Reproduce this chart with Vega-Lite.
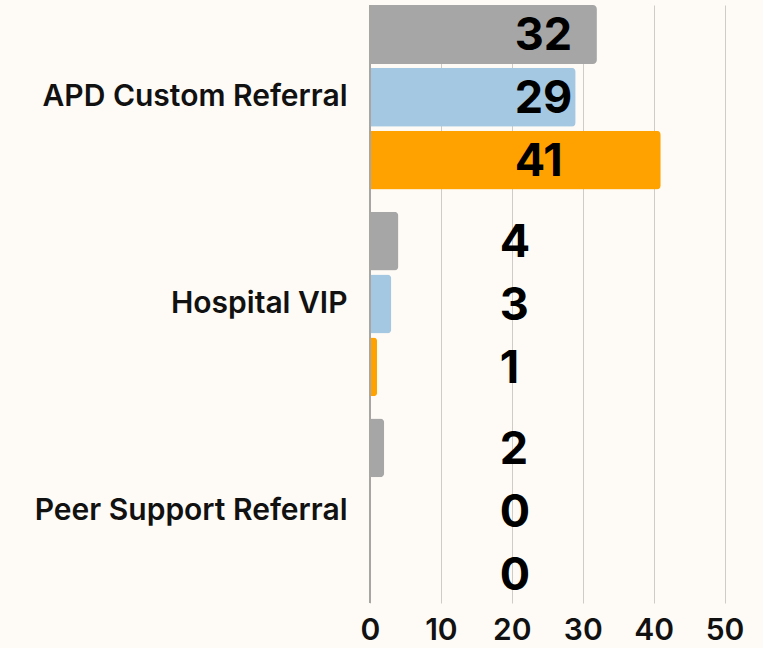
{
  "$schema": "https://vega.github.io/schema/vega-lite/v6.json",
  "width": 390,
  "height": 598,
  "autosize": {"type": "none"},
  "padding": {"left": 370, "top": 5, "right": 3, "bottom": 45},
  "background": "#FEFBF6",
  "config": {
    "view": {"stroke": null},
    "font": "Inter"
  },
  "data": {
    "values": [
      {"category": "APD Custom Referral", "series": "Series 1", "value": 32},
      {"category": "APD Custom Referral", "series": "Series 2", "value": 29},
      {"category": "APD Custom Referral", "series": "Series 3", "value": 41},
      {"category": "Hospital VIP", "series": "Series 1", "value": 4},
      {"category": "Hospital VIP", "series": "Series 2", "value": 3},
      {"category": "Hospital VIP", "series": "Series 3", "value": 1},
      {"category": "Peer Support Referral", "series": "Series 1", "value": 2},
      {"category": "Peer Support Referral", "series": "Series 2", "value": 0},
      {"category": "Peer Support Referral", "series": "Series 3", "value": 0}
    ]
  },
  "encoding": {
    "y": {
      "field": "category",
      "type": "nominal",
      "sort": ["APD Custom Referral", "Hospital VIP", "Peer Support Referral"],
      "scale": {"paddingInner": 0.107, "paddingOuter": 0},
      "axis": {
        "title": null,
        "domain": false,
        "ticks": false,
        "labelPadding": 23,
        "labelFontSize": 30,
        "labelFontWeight": 600,
        "labelColor": "#111111",
        "labelLimit": 400
      }
    },
    "yOffset": {
      "field": "series",
      "type": "nominal",
      "sort": ["Series 1", "Series 2", "Series 3"],
      "scale": {"paddingInner": 0.063, "paddingOuter": 0}
    }
  },
  "layer": [
    {
      "mark": {"type": "bar", "cornerRadiusEnd": 4},
      "encoding": {
        "x": {
          "field": "value",
          "type": "quantitative",
          "scale": {"domain": [0, 55], "nice": false},
          "axis": {
            "title": null,
            "values": [0, 10, 20, 30, 40, 50],
            "domain": false,
            "ticks": false,
            "grid": true,
            "gridColor": "#CFCBC6",
            "gridWidth": 1,
            "labelFontSize": 30,
            "labelFontWeight": 600,
            "labelColor": "#111111",
            "labelPadding": 12,
            "labelFlush": false
          }
        },
        "color": {
          "field": "series",
          "type": "nominal",
          "scale": {"domain": ["Series 1", "Series 2", "Series 3"], "range": ["#A6A6A6", "#A5C8E2", "#FFA200"]},
          "legend": null
        }
      }
    },
    {
      "mark": {"type": "rule", "color": "#A8A6A3", "strokeWidth": 2},
      "encoding": {"x": {"datum": 0}, "y": null, "yOffset": null}
    },
    {
      "transform": [{"filter": "datum.value >= 10"}],
      "mark": {"type": "text", "align": "left", "baseline": "middle", "fontSize": 45, "fontWeight": 700, "color": "#000000", "dy": 2},
      "encoding": {
        "x": {"datum": 20.4},
        "text": {"field": "value", "type": "quantitative"}
      }
    },
    {
      "transform": [{"filter": "datum.value < 10"}],
      "mark": {"type": "text", "align": "left", "baseline": "middle", "fontSize": 45, "fontWeight": 700, "color": "#000000", "dy": 2},
      "encoding": {
        "x": {"datum": 18.3},
        "text": {"field": "value", "type": "quantitative"}
      }
    }
  ]
}
